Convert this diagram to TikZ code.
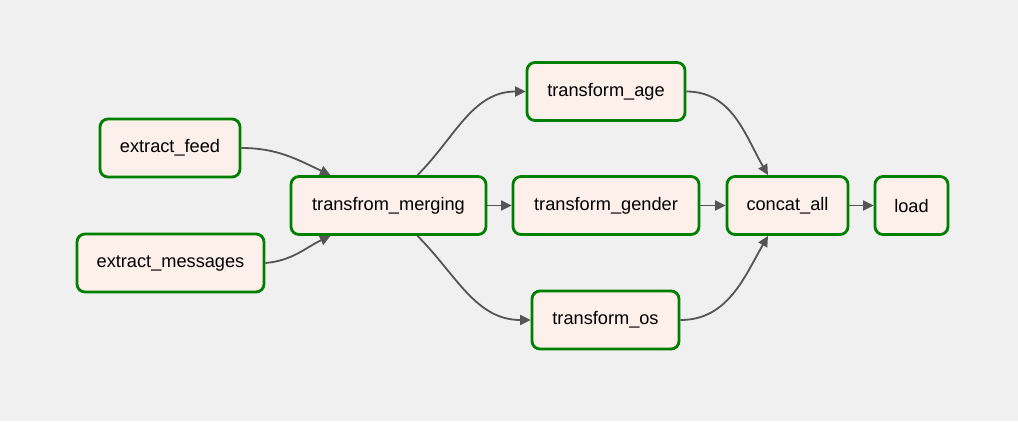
\documentclass[tikz,border=0pt]{standalone}
\usepackage{fontspec}
\setmainfont{Liberation Sans}
\usetikzlibrary{arrows.meta}
\definecolor{bgc}{HTML}{F0F0F0}
\definecolor{boxfill}{HTML}{FDEFE9}
\definecolor{boxline}{HTML}{008000}
\definecolor{edgec}{HTML}{555555}
\begin{document}
\begin{tikzpicture}[x=1pt,y=1pt,
  task/.style={draw=boxline, fill=boxfill, line width=2.8pt, rounded corners=8pt,
    minimum height=58pt, inner sep=0pt, font=\fontsize{18.2}{22}\selectfont},
  edge/.style={draw=edgec, line width=1.8pt, -{Triangle[length=10.5pt,width=10pt]}}]
\fill[bgc] (0,0) rectangle (1018,-421);
\useasboundingbox (0,0) rectangle (1018,-421);
\node[task, minimum width=140pt] (feed) at (170,-148) {extract\_feed};
\node[task, minimum width=187pt] (msg) at (170.5,-263) {extract\_messages};
\node[task, minimum width=195pt] (merge) at (388.5,-205.5) {transfrom\_merging};
\node[task, minimum width=158pt] (age) at (606,-91.5) {transform\_age};
\node[task, minimum width=186pt] (gender) at (606,-205.5) {transform\_gender};
\node[task, minimum width=147pt] (os) at (605.5,-320) {transform\_os};
\node[task, minimum width=121pt] (concat) at (787.5,-205.5) {concat\_all};
\node[task, minimum width=73pt] (load) at (911.5,-205.5) {load};
\draw[edge] (feed.east) to[out=0,in=155] ([xshift=-58pt]merge.north);
\draw[edge] (msg.east) to[out=5,in=-155] ([xshift=-58pt]merge.south);
\draw[edge] ([xshift=29pt]merge.north) to[out=45,in=180] (age.west);
\draw[edge] (merge.east) -- (gender.west);
\draw[edge] ([xshift=29pt]merge.south) to[out=-45,in=180] (os.west);
\draw[edge] (age.east) to[out=0,in=120] ([xshift=-19.5pt]concat.north);
\draw[edge] (gender.east) -- (concat.west);
\draw[edge] (os.east) to[out=0,in=-120] ([xshift=-19.5pt]concat.south);
\draw[edge] (concat.east) -- (load.west);
\end{tikzpicture}
\end{document}
